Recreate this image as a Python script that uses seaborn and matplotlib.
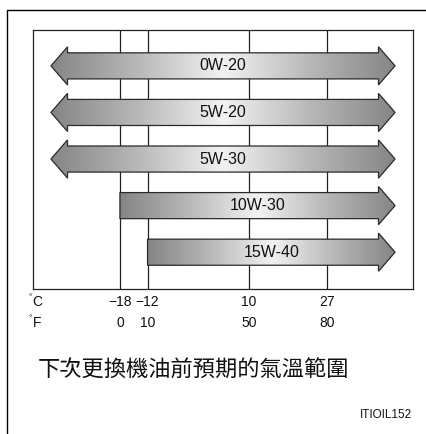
import numpy as np
import matplotlib
matplotlib.use("Agg")
import matplotlib.pyplot as plt
import seaborn as sns
from matplotlib.patches import Polygon
from matplotlib.lines import Line2D
from matplotlib.colors import LinearSegmentedColormap
import matplotlib.transforms as mtransforms

# data
grades = ["0W-20", "5W-20", "5W-30", "10W-30", "15W-40"]
low_c = [None, None, None, -18, -12]   # None = open to the cold end
c_ticks = [-18, -12, 10, 27]
c_labels = ["\u221218", "\u221212", "10", "27"]
f_labels = ["0", "10", "50", "80"]
caption = "下次更換機油前預期的氣溫範圍"
code = "ITIOIL152"

sns.set_style("white")
plt.rcParams["font.family"] = ["Liberation Sans", "DejaVu Sans"]

W, H = 426, 434
fig = plt.figure(figsize=(W / 100, H / 100), dpi=100)
ax = fig.add_axes([33 / W, 1 - 289 / H, (413 - 33) / W, (289 - 30) / H])

XMIN, XMAX = -36.9, 45.7
TIP_L, TIP_R = -33.0, 41.8
HEAD = 3.6        # arrow head length (deg C)
SHAFT = 0.28      # half height of shaft (rows)
HEADH = 0.41      # half height of head (rows)

cmap = LinearSegmentedColormap.from_list("g", ["#858585", "#b8b8b8", "#f2f2f2", "#b8b8b8", "#858585"])

for c in c_ticks:
    ax.axvline(c, color="#222222", lw=0.9, zorder=1)

for i, (name, lo) in enumerate(zip(grades, low_c)):
    y = i
    x1 = TIP_R
    if lo is None:
        x0 = TIP_L
        pts = [(x0, y), (x0 + HEAD, y - HEADH), (x0 + HEAD, y - SHAFT),
               (x1 - HEAD, y - SHAFT), (x1 - HEAD, y - HEADH), (x1, y),
               (x1 - HEAD, y + HEADH), (x1 - HEAD, y + SHAFT),
               (x0 + HEAD, y + SHAFT), (x0 + HEAD, y + HEADH)]
    else:
        x0 = lo
        pts = [(x0, y - SHAFT), (x1 - HEAD, y - SHAFT), (x1 - HEAD, y - HEADH),
               (x1, y), (x1 - HEAD, y + HEADH), (x1 - HEAD, y + SHAFT),
               (x0, y + SHAFT)]
    poly = Polygon(pts, closed=True, facecolor="none", edgecolor="#2a2a2a",
                   lw=0.9, zorder=4)
    ax.add_patch(poly)
    grad = np.linspace(0, 1, 256).reshape(1, -1)
    im = ax.imshow(grad, cmap=cmap, extent=[x0, x1, y + HEADH, y - HEADH],
                   aspect="auto", zorder=3, interpolation="bilinear")
    im.set_clip_path(poly)
    ax.text((x0 + x1) / 2, y, name, ha="center", va="center", fontsize=11.5,
            color="#111111", zorder=5)

ax.set_xlim(XMIN, XMAX)
ax.set_ylim(4.79, -0.77)
ax.set_xticks([])
ax.set_yticks([])
for sp in ax.spines.values():
    sp.set_color("#222222")
    sp.set_linewidth(0.9)

# scale labels under the box
trans = mtransforms.blended_transform_factory(ax.transData, fig.transFigure)
yc = 1 - 302 / H
yf = 1 - 323 / H
for c, cl, fl in zip(c_ticks, c_labels, f_labels):
    ax.text(c, yc, cl, transform=trans, ha="center", va="center", fontsize=10, color="#111111")
    ax.text(c, yf, fl, transform=trans, ha="center", va="center", fontsize=10, color="#111111")
for lab, yy in (("C", yc), ("F", yf)):
    fig.text(28.5 / W, yy + 4 / H, "°", ha="left", va="center", fontsize=6, color="#111111")
    fig.text(32.5 / W, yy, lab, ha="left", va="center", fontsize=10, color="#111111")

fig.text(38 / W, 1 - 370 / H, caption, ha="left", va="center", fontsize=16,
         family=["Noto Sans CJK TC", "DejaVu Sans"], color="#111111")
fig.text(412 / W, 1 - 415 / H, code, ha="right", va="center", fontsize=8.5, color="#111111")

# outer frame (top and left edges)
fig.add_artist(Line2D([7 / W, 7 / W], [0, 1 - 10 / H], color="black", lw=1.0))
fig.add_artist(Line2D([7 / W, 1], [1 - 10 / H, 1 - 10 / H], color="black", lw=1.0))

fig.savefig("out.png", dpi=100, facecolor="white")
